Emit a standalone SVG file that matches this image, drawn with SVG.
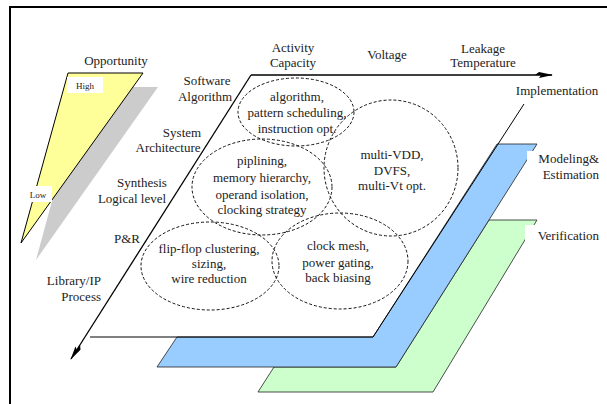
<svg xmlns="http://www.w3.org/2000/svg" width="607" height="404" viewBox="0 0 607 404">
<defs>
<marker id="arr" markerWidth="18" markerHeight="10" refX="17" refY="5" orient="auto" markerUnits="userSpaceOnUse"><path d="M0,5 L4,2 L18,5 L4,8 L6,5 z" fill="#000"/></marker>
</defs>
<style>
.t{font-family:"Liberation Serif","Times New Roman",serif;font-size:13px;fill:#222}
.s{font-size:9px}
.e{fill:none;stroke:#111;stroke-width:1;stroke-dasharray:3,2}
.ax{fill:none;stroke:#000;stroke-width:1.3}
.pl{stroke:#222;stroke-width:0.8}
.bg{fill:#fff}
</style>
<rect width="607" height="404" fill="#fff"/>
<path d="M10,404 V7 H607" fill="none" stroke="#000" stroke-width="2"/>

<g id="opportunity">
<polygon points="83,87 158,87 36,260" fill="#cccccc"/>
<polygon points="68,73 143,73 21,243" fill="#ffff99" stroke="#000" stroke-width="1"/>
<rect x="67" y="77" width="36" height="16" class="bg"/>
<text class="t s" x="85" y="89" text-anchor="middle">High</text>
<rect x="26" y="186" width="26" height="16" class="bg"/>
<text class="t s" x="38" y="198" text-anchor="middle">Low</text>
<text class="t" x="116" y="65" text-anchor="middle">Opportunity</text>
</g>

<g id="verification">
<polygon points="258,392 274,367 396,367 489,220 537,220 433,392" fill="#ccffcc" class="pl"/>
<rect x="525" y="225" width="76" height="20" class="bg"/>
<text class="t" x="599" y="240" text-anchor="end">Verification</text>
</g>

<g id="modeling">
<polygon points="157,367 177,337 373,337 497,144 537,144 396,367" fill="#99ccff" class="pl"/>
<rect x="527" y="151" width="74" height="32" class="bg"/>
<text class="t" x="599" y="163" text-anchor="end">Modeling&amp;</text>
<text class="t" x="599" y="179" text-anchor="end">Estimation</text>
</g>

<g id="connectors">
<path class="ax" d="M251,75 H552" marker-end="url(#arr)"/>
<path class="ax" d="M251,75 L71,359" marker-end="url(#arr)"/>
<path d="M90,337 H373 L524,104" fill="none" stroke="#000" stroke-width="1"/>
</g>

<g id="axis-labels">
<text class="t" x="293" y="52" text-anchor="middle">Activity</text>
<text class="t" x="293" y="67" text-anchor="middle">Capacity</text>
<text class="t" x="387" y="59" text-anchor="middle">Voltage</text>
<text class="t" x="483" y="53" text-anchor="middle">Leakage</text>
<text class="t" x="483" y="67" text-anchor="middle">Temperature</text>
<text class="t" x="557" y="95" text-anchor="middle">Implementation</text>
<text class="t" x="207" y="85" text-anchor="middle">Software</text>
<text class="t" x="205" y="101" text-anchor="middle">Algorithm</text>
<text class="t" x="182" y="137" text-anchor="middle">System</text>
<text class="t" x="168" y="152" text-anchor="middle">Architecture</text>
<text class="t" x="142" y="187" text-anchor="middle">Synthesis</text>
<text class="t" x="132" y="203" text-anchor="middle">Logical level</text>
<text class="t" x="127" y="243" text-anchor="middle">P&amp;R</text>
<text class="t" x="101" y="285" text-anchor="end">Library/IP</text>
<text class="t" x="101" y="301" text-anchor="end">Process</text>
</g>

<g id="n-algorithm">
<ellipse class="e" cx="296" cy="112" rx="58" ry="34"/>
<text class="t" x="297" y="101" text-anchor="middle">algorithm,</text>
<text class="t" x="297" y="117" text-anchor="middle">pattern scheduling,</text>
<text class="t" x="297" y="133" text-anchor="middle">instruction opt.</text>
</g>

<g id="n-voltage">
<ellipse class="e" cx="391" cy="168" rx="67" ry="68"/>
<text class="t" x="392" y="159" text-anchor="middle">multi-VDD,</text>
<text class="t" x="392" y="175" text-anchor="middle">DVFS,</text>
<text class="t" x="392" y="190" text-anchor="middle">multi-Vt opt.</text>
</g>

<g id="n-architecture">
<ellipse class="e" cx="262" cy="187" rx="70" ry="48"/>
<text class="t" x="262" y="165" text-anchor="middle">piplining,</text>
<text class="t" x="262" y="182" text-anchor="middle">memory hierarchy,</text>
<text class="t" x="262" y="199" text-anchor="middle">operand isolation,</text>
<text class="t" x="262" y="214" text-anchor="middle">clocking strategy</text>
</g>

<g id="n-pr">
<ellipse class="e" cx="210" cy="266" rx="69" ry="44"/>
<text class="t" x="209" y="253" text-anchor="middle">flip-flop clustering,</text>
<text class="t" x="209" y="268" text-anchor="middle">sizing,</text>
<text class="t" x="209" y="283" text-anchor="middle">wire reduction</text>
</g>

<g id="n-clock">
<ellipse class="e" cx="340" cy="261" rx="68" ry="48"/>
<text class="t" x="338" y="250" text-anchor="middle">clock mesh,</text>
<text class="t" x="338" y="267" text-anchor="middle">power gating,</text>
<text class="t" x="338" y="282" text-anchor="middle">back biasing</text>
</g>
</svg>
